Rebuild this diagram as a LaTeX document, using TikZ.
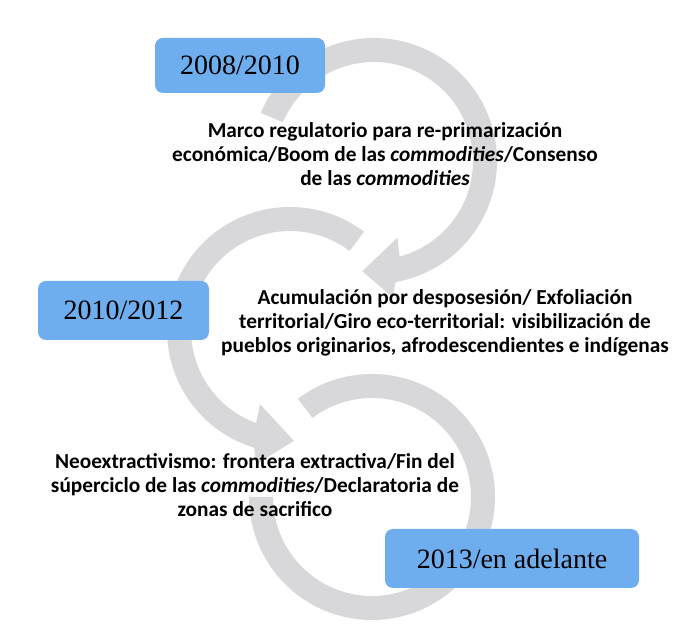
\documentclass[tikz,border=0pt]{standalone}
\usepackage{fontspec}
\setmainfont{Liberation Serif}
\newfontfamily\carl{Carlito}
\usetikzlibrary{calc}
\definecolor{ringgray}{RGB}{216,216,218}
\definecolor{boxblue}{RGB}{110,174,238}
\begin{document}
\begin{tikzpicture}[x=0.75pt,y=0.75pt,
  yearbox/.style={fill=boxblue, rounded corners=6pt, inner sep=0pt, font=\fontsize{21}{24}\selectfont, text=black},
  desc/.style={align=center, font=\carl\bfseries\fontsize{16}{18}\selectfont, inner sep=0pt},
  ringshape/.style={fill=ringgray}]
\fill[white] (0,0) rectangle (700,638);
\useasboundingbox (0,0) rectangle (700,638);
\coordinate (c1) at (374,477);
\coordinate (c2) at (290,308);
\coordinate (c3) at (372,141);
% ring 3 (no arrowhead)
\fill[ringshape] ($(c3)+(127:92.25pt)$) arc[start angle=127, end angle=-180, radius=92.25pt]
  -- ($(c3)+(-180:74.25pt)$) arc[start angle=-180, end angle=127, radius=74.25pt] -- cycle;
% ring 2 (counterclockwise)
\fill[ringshape] ($(c2)+(53:92.25pt)$) arc[start angle=53, end angle=253, radius=92.25pt]
  -- ($(c2)+(256:103.5pt)$) -- ($(c2)+(272:83.25pt)$) -- ($(c2)+(248:60pt)$)
  -- ($(c2)+(250:74.25pt)$) arc[start angle=250, end angle=53, radius=74.25pt] -- cycle;
% ring 1 (clockwise)
\fill[ringshape] ($(c1)+(157:92.25pt)$) arc[start angle=157, end angle=-80, radius=92.25pt]
  -- ($(c1)+(-82:103.5pt)$) -- ($(c1)+(-96:83.25pt)$) -- ($(c1)+(-73:60pt)$)
  -- ($(c1)+(-75:74.25pt)$) arc[start angle=-75, end angle=157, radius=74.25pt] -- cycle;
% year boxes
\node[yearbox, minimum width=127.5pt, minimum height=41.25pt] (y1) at (240,572.5) {2008/2010};
\node[yearbox, minimum width=128.25pt, minimum height=44.25pt] (y2) at (123.5,327.5) {2010/2012};
\node[yearbox, minimum width=190.5pt, minimum height=44.25pt] (y3) at (512,79.5) {2013/en adelante};
% descriptions
\node[desc] (t1) at (385,484) {Marco regulatorio para re-primarización\\económica/Boom de las \textit{commodities}/Consenso\\de las \textit{commodities}};
\node[desc] (t2) at (445,315) {Acumulación por desposesión/ Exfoliación\\territorial/Giro eco-territorial: visibilización de\\pueblos originarios, afrodescendientes e indígenas};
\node[desc] (t3) at (255,153) {Neoextractivismo: frontera extractiva/Fin del\\súperciclo de las \textit{commodities}/Declaratoria de\\zonas de sacrifico};
\end{tikzpicture}
\end{document}
